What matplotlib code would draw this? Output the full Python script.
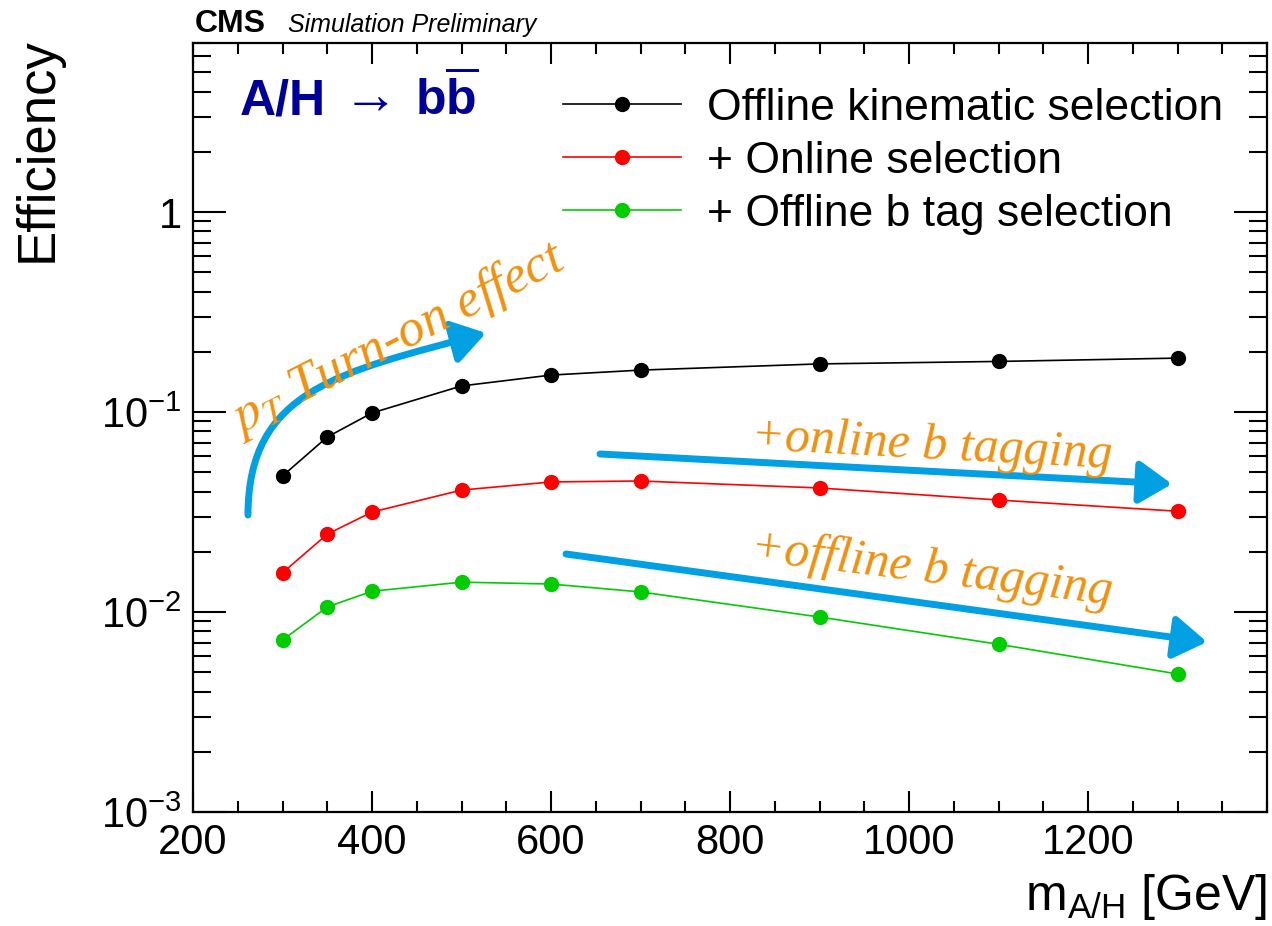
import numpy as np
import matplotlib
matplotlib.use('Agg')
import matplotlib.pyplot as plt
from matplotlib.patches import FancyArrowPatch
from matplotlib.path import Path
from matplotlib.ticker import FixedLocator, FixedFormatter, LogLocator, NullFormatter, MultipleLocator

plt.rcParams['font.family'] = ['Liberation Sans', 'DejaVu Sans']
plt.rcParams['mathtext.fontset'] = 'custom'
plt.rcParams['mathtext.rm'] = 'Liberation Sans'
plt.rcParams['mathtext.it'] = 'Liberation Sans:italic'
plt.rcParams['mathtext.bf'] = 'Liberation Sans:bold'

# Signal mass points [GeV] and efficiencies
mass = [300, 350, 400, 500, 600, 700, 900, 1100, 1300]
eff_kinematic = [0.0479, 0.075, 0.0989, 0.135, 0.153, 0.162, 0.174, 0.179, 0.186]
eff_online = [0.0157, 0.0245, 0.0316, 0.0407, 0.0447, 0.0452, 0.0417, 0.0363, 0.0319]
eff_btag = [0.00724, 0.0106, 0.0127, 0.0141, 0.0138, 0.0126, 0.00944, 0.0069, 0.0049]

series_labels = ['Offline kinematic selection', '+ Online selection', '+ Offline b tag selection']
series_colors = ['#000000', '#ff0000', '#00cc00']

x_ticks = [200, 400, 600, 800, 1000, 1200]
y_ticks = [1e-3, 1e-2, 1e-1, 1]
y_tick_labels = [r'$10^{-3}$', r'$10^{-2}$', r'$10^{-1}$', '1']

orange = '#f0910f'
blue = '#00a0e3'
navy = '#000099'

W, H = 1272, 926
fig = plt.figure(figsize=(W / 100, H / 100), dpi=100)
ax = fig.add_axes([193 / W, 1 - 812 / H, (1267 - 193) / W, (812 - 43) / H])

for vals, lab, col in zip([eff_kinematic, eff_online, eff_btag], series_labels, series_colors):
    ax.plot(mass, vals, '-o', color=col, lw=1.2, ms=10, label=lab)

ax.set_yscale('log')
ax.set_xlim(200, 1400)
ax.set_ylim(1e-3, 7)

ax.xaxis.set_major_locator(FixedLocator(x_ticks))
ax.xaxis.set_minor_locator(MultipleLocator(50))
ax.yaxis.set_major_locator(FixedLocator(y_ticks))
ax.yaxis.set_major_formatter(FixedFormatter(y_tick_labels))
ax.yaxis.set_minor_locator(LogLocator(base=10, subs=np.arange(2, 10)))
ax.yaxis.set_minor_formatter(NullFormatter())

ax.tick_params(which='both', direction='in', top=True, right=True, width=1.5, labelsize=30)
ax.tick_params(axis='x', which='major', length=15, pad=8)
ax.tick_params(axis='x', which='minor', length=8)
ax.tick_params(axis='y', which='major', length=24, pad=8)
ax.tick_params(axis='y', which='minor', length=13)
for s in ax.spines.values():
    s.set_linewidth(1.6)

fig.text(38 / W, 1 - 37 / H, 'Efficiency', rotation=90, ha='center', va='top', fontsize=38)
fig.text(1267 / W, 1 - 910 / H, r'm$_{\mathregular{A/H}}$ [GeV]', ha='right', va='baseline', fontsize=36)

fig.text(195 / W, 1 - 32 / H, 'CMS', fontsize=23, fontweight='bold', va='baseline')
fig.text(288 / W, 1 - 32 / H, 'Simulation Preliminary', fontsize=18, style='italic', va='baseline')

# A/H -> b bbar
fig.text(240 / W, 1 - 115 / H, 'A/H', fontsize=36, fontweight='bold', color=navy, va='baseline')
fig.text(333 / W, 1 - 112 / H, r'$\rightarrow$', fontsize=40, color=navy, va='baseline')
fig.text(415 / W, 1 - 115 / H, r'$\mathbf{b}\overline{\mathbf{b}}$', fontsize=36, color=navy, va='baseline')

ax.legend(loc='upper left', bbox_to_anchor=((563 - 193) / 1074, (812 - 88) / 769), frameon=False,
          fontsize=32, handlelength=2.65, handletextpad=0.6, labelspacing=0.27, numpoints=1,
          borderpad=0, borderaxespad=0)

# annotations (positions in axes fraction)
def axf(px, py):
    return ((px - 193) / 1074, (812 - py) / 769)

curve = Path([axf(248, 515), axf(248, 390), axf(340, 372), axf(486, 333)],
             [Path.MOVETO, Path.CURVE4, Path.CURVE4, Path.CURVE4])
arr = FancyArrowPatch(path=curve, arrowstyle='-|>,head_length=1.0,head_width=0.65', mutation_scale=20,
                      color=blue, lw=5, transform=ax.transAxes)
ax.add_patch(arr)

for p0, p1 in [((600, 454), (1172, 484)), ((566, 554), (1207, 642))]:
    ax.annotate('', xy=axf(*p1), xytext=axf(*p0), xycoords='axes fraction', textcoords='axes fraction',
                arrowprops=dict(arrowstyle='-|>,head_length=1.0,head_width=0.65', mutation_scale=20,
                                color=blue, lw=5, shrinkA=0, shrinkB=0))

script = dict(color=orange, family='Liberation Serif', style='italic',
              ha='center', va='center', rotation_mode='anchor', transform=ax.transAxes)
ax.text(*axf(398, 338), r'$p_T$ Turn-on effect', rotation=27, math_fontfamily='stix', fontsize=38, **script)
ax.text(*axf(932, 446), '+online b tagging', rotation=-3, fontsize=36, **script)
ax.text(*axf(932, 570), '+offline b tagging', rotation=-7, fontsize=36, **script)

fig.savefig('out.png', dpi=100)
